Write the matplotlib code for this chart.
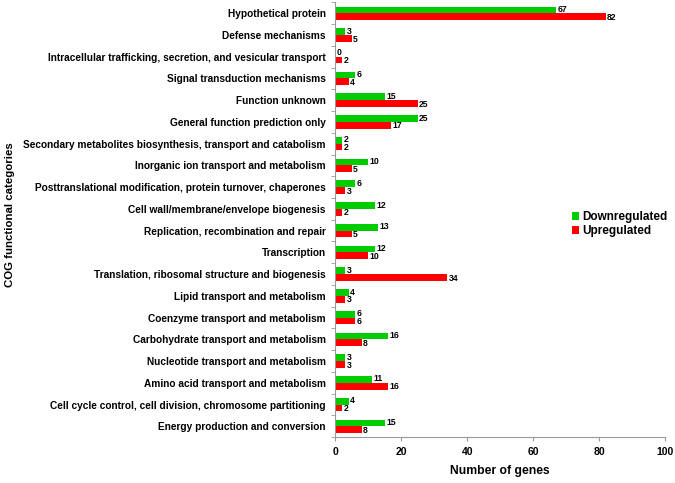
import numpy as np
import matplotlib
matplotlib.use("Agg")
import matplotlib.pyplot as plt

plt.rcParams['font.family'] = ['Liberation Sans', 'DejaVu Sans']
plt.rcParams['font.weight'] = 'bold'

# COG categories, listed top to bottom as in the figure
categories = [
    "Hypothetical protein",
    "Defense mechanisms",
    "Intracellular trafficking, secretion, and vesicular transport",
    "Signal transduction mechanisms",
    "Function unknown",
    "General function prediction only",
    "Secondary metabolites biosynthesis, transport and catabolism",
    "Inorganic ion transport and metabolism",
    "Posttranslational modification, protein turnover, chaperones",
    "Cell wall/membrane/envelope biogenesis",
    "Replication, recombination and repair",
    "Transcription",
    "Translation, ribosomal structure and biogenesis",
    "Lipid transport and metabolism",
    "Coenzyme transport and metabolism",
    "Carbohydrate transport and metabolism",
    "Nucleotide transport and metabolism",
    "Amino acid transport and metabolism",
    "Cell cycle control, cell division, chromosome partitioning",
    "Energy production and conversion",
]
down = [67, 3, 0, 6, 15, 25, 2, 10, 6, 12, 13, 12, 3, 4, 6, 16, 3, 11, 4, 15]
up = [82, 5, 2, 4, 25, 17, 2, 5, 3, 2, 5, 10, 34, 3, 6, 8, 3, 16, 2, 8]
x_ticks = [0, 20, 40, 60, 80, 100]

green = "#00CC00"
red = "#FF0000"

fig = plt.figure(figsize=(6.75, 4.83), dpi=100)
ax = fig.add_axes([0.497, 0.095, 0.488, 0.9])

n = len(categories)
y = np.arange(n)
h = 0.31

b1 = ax.barh(y - h / 2, down, height=h, color=green, label="Downregulated")
b2 = ax.barh(y + h / 2, up, height=h, color=red, label="Upregulated")

# value labels at the bar ends
for rect, v in zip(b1, down):
    ax.text(rect.get_width() + 0.4, rect.get_y() + rect.get_height() / 2 - 0.02, str(v),
            va="center", ha="left", fontsize=6.2, fontweight="bold")
for rect, v in zip(b2, up):
    ax.text(rect.get_width() + 0.4, rect.get_y() + rect.get_height() / 2 + 0.03, str(v),
            va="center", ha="left", fontsize=6.2, fontweight="bold")

ax.set_ylim(n - 0.5, -0.5)
ax.set_xlim(0, 100)
ax.set_xticks(x_ticks)
ax.set_xticklabels([str(t) for t in x_ticks], fontsize=7.5, fontweight="bold")

ax.set_yticks(y)
ax.set_yticklabels(categories, fontsize=7.3, fontweight="bold")
ax.tick_params(axis="y", which="major", length=0, pad=7)
ax.set_yticks(np.arange(-0.5, n, 1), minor=True)
ax.tick_params(axis="y", which="minor", length=3, color="#999999")
ax.tick_params(axis="x", length=3, color="#999999", pad=4)

for s in ["top", "right"]:
    ax.spines[s].set_visible(False)
for s in ["left", "bottom"]:
    ax.spines[s].set_color("#999999")

ax.set_xlabel("Number of genes", fontsize=8.7, fontweight="bold", labelpad=6)
fig.text(0.008, 0.555, "COG functional categories", rotation=90, va="center",
         ha="left", fontsize=8.2, fontweight="bold")

ax.legend(loc="center left", bbox_to_anchor=(0.7, 0.49), frameon=False,
          fontsize=8.5, handlelength=0.6, handleheight=0.6, handletextpad=0.3,
          labelspacing=0.15, borderpad=0)

fig.savefig("out.png", dpi=100)
